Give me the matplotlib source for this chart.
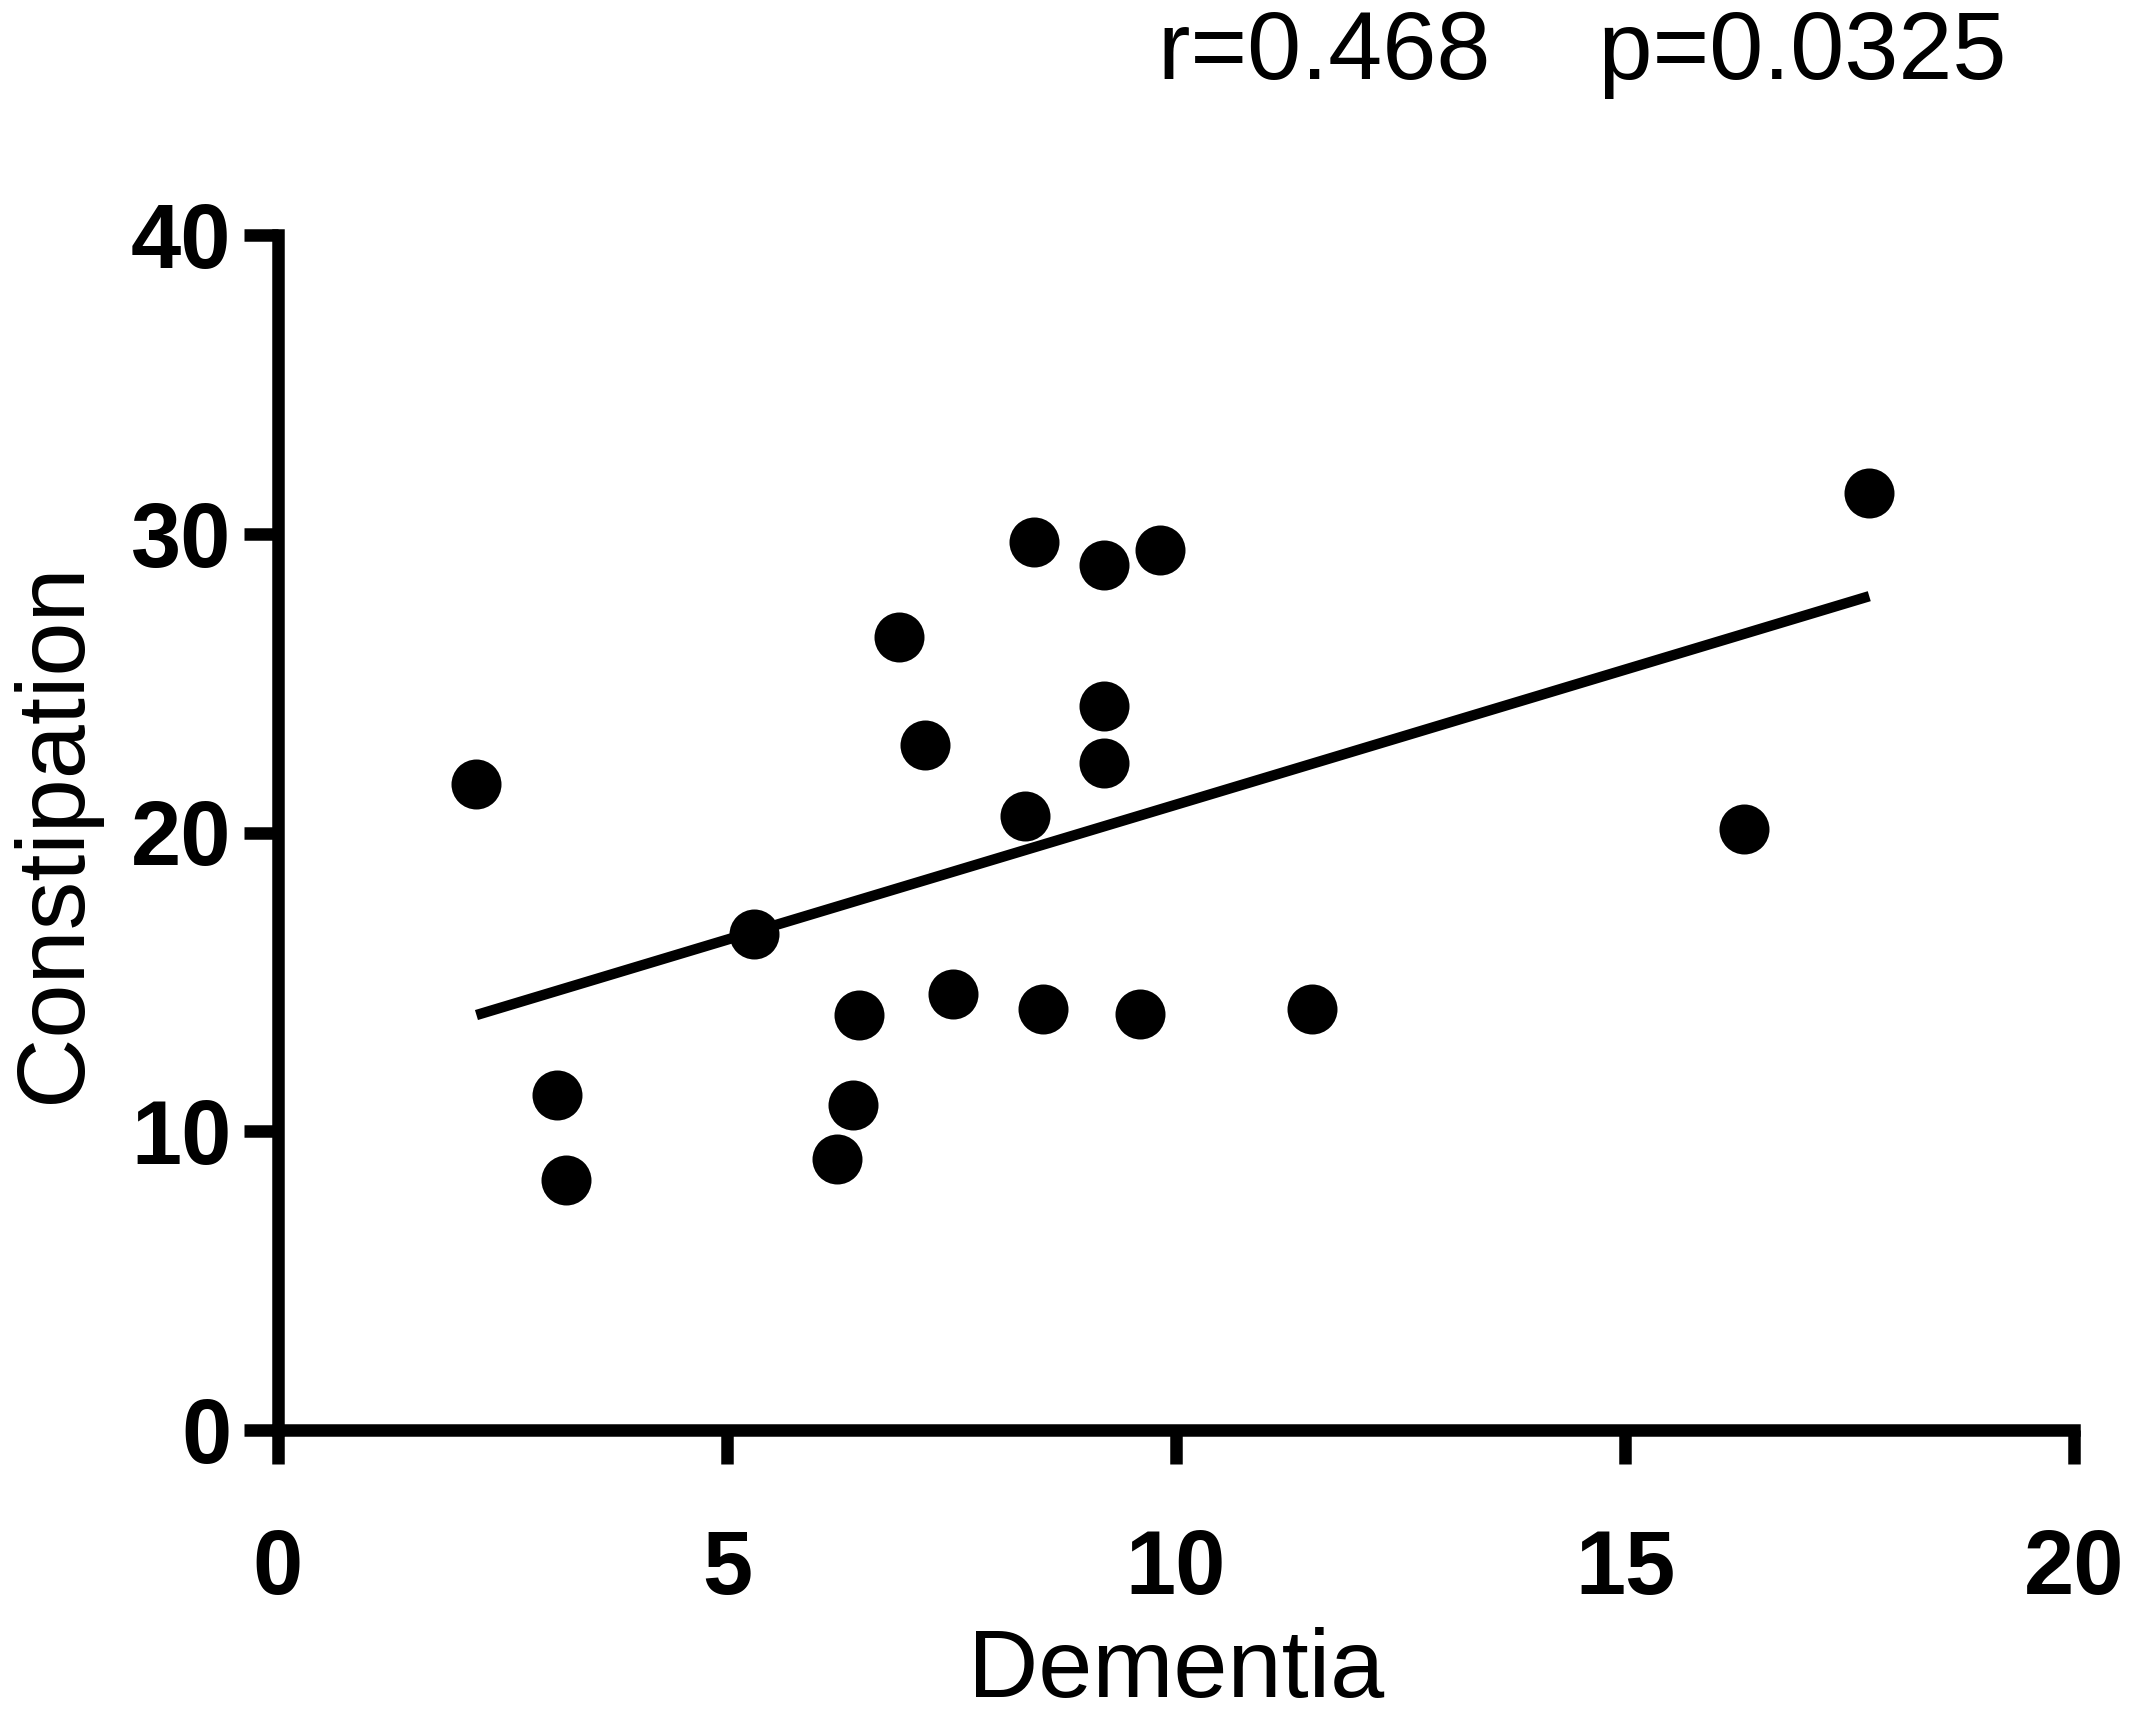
import numpy as np
import matplotlib
matplotlib.use("Agg")
import matplotlib.pyplot as plt

plt.rcParams["font.family"] = ["Liberation Sans", "DejaVu Sans"]

# values
dementia = [2.21, 3.11, 3.21, 5.30, 6.22, 6.40, 6.47, 6.91, 7.21, 7.52, 8.32,
            8.42, 8.52, 9.20, 9.20, 9.20, 9.82, 9.60, 11.52, 16.33, 17.72]
constipation = [21.63, 11.20, 8.38, 16.61, 9.08, 10.89, 13.90, 26.54, 22.93,
                14.59, 20.54, 29.73, 14.10, 28.96, 24.23, 22.34, 29.46, 13.92,
                14.10, 20.12, 31.36]

# regression line ends as drawn in the figure
fit_x = [2.21, 17.72]
fit_y = [13.89, 27.91]

x_ticks = [0, 5, 10, 15, 20]
y_ticks = [0, 10, 20, 30, 40]
stats_text = "r=0.468    p=0.0325"

fig = plt.figure(figsize=(21.3, 17.16), dpi=100)
ax = fig.add_axes([278 / 2130, 1 - 1430 / 1716, (2074 - 278) / 2130, (1430 - 235) / 1716])

ax.plot(fit_x, fit_y, color="black", linewidth=7.5, solid_capstyle="butt", zorder=2)
ax.plot(dementia, constipation, "o", color="black", markersize=36,
        markeredgewidth=0, zorder=3, clip_on=False)

ax.set_xlim(0, 20)
ax.set_ylim(0, 40)
ax.set_xticks(x_ticks)
ax.set_yticks(y_ticks)

for side in ["top", "right"]:
    ax.spines[side].set_visible(False)
for side in ["left", "bottom"]:
    ax.spines[side].set_linewidth(9)
    ax.spines[side].set_capstyle("projecting")

ax.tick_params(axis="both", direction="out", length=24.5, width=9,
               labelsize=65)
ax.tick_params(axis="x", pad=46)
ax.tick_params(axis="y", pad=9)
for lbl in ax.get_xticklabels() + ax.get_yticklabels():
    lbl.set_fontweight("bold")

ax.set_xlabel("Dementia", fontsize=70, labelpad=10)
ax.set_ylabel("Constipation", fontsize=70, labelpad=22)

fig.text(1158 / 2130, 1 - 79 / 1716, stats_text, fontsize=70,
         ha="left", va="baseline")

fig.savefig("out.png", dpi=100, facecolor="white")
